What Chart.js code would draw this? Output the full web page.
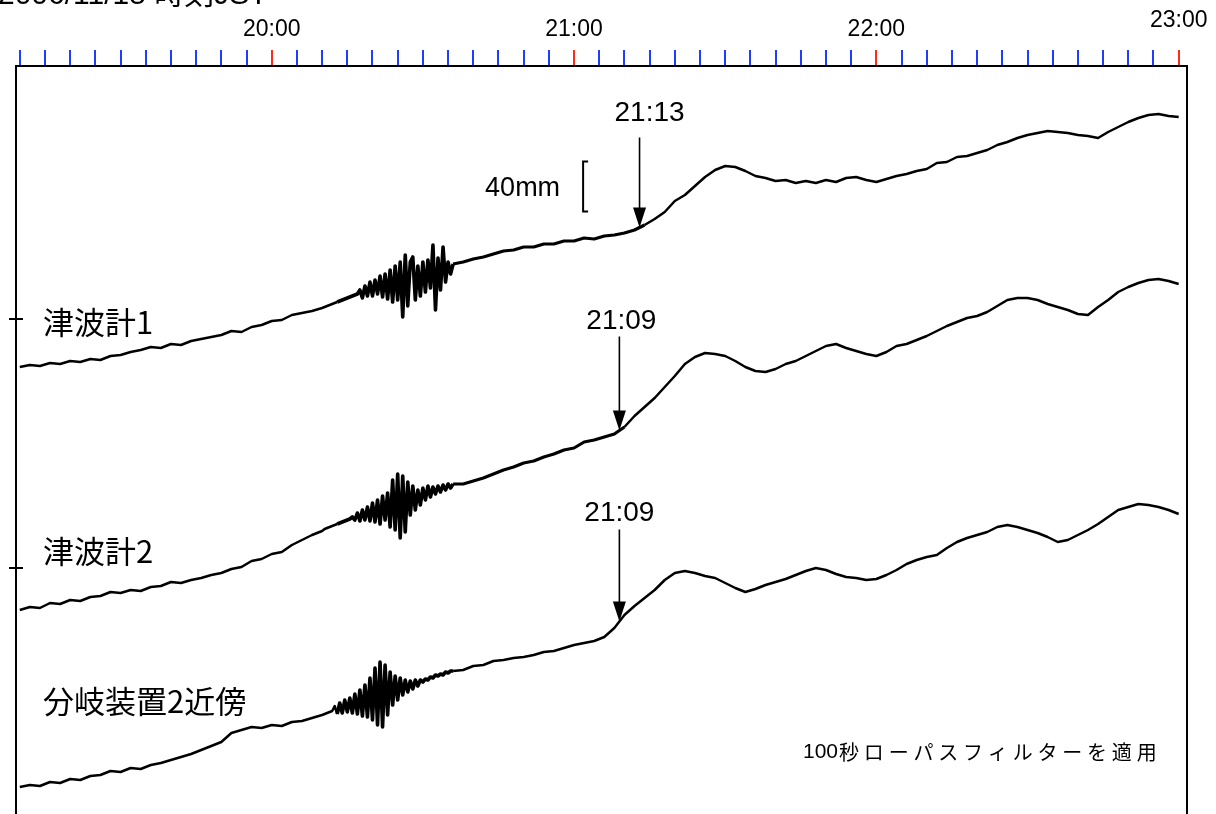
<!DOCTYPE html>
<html lang="ja">
<head>
<meta charset="utf-8">
<title>津波計記録</title>
<script src="https://cdn.jsdelivr.net/npm/chart.js@4.4.1/dist/chart.umd.min.js"></script>
<style>
  html, body { margin: 0; padding: 0; background: #fff; }
  canvas { display: block; }
</style>
</head>
<body>
<canvas id="chart" width="1216" height="814"></canvas>
<script>
// time of each sample, minutes after midnight JST (denser while the seismic waves pass)
const minutes = [
  1150,1152,1154,1156,1158,1160,1162,1164,1166,1168,1170,1172,1174,1176,1178,1180,
  1182,1184,1186,1188,1190,1192,1194,1196,1198,1200,1202,1204,1206,1208,1210,
  1210.5,1211,1211.5,1212,1212.5,1213,1213.5,1214,1214.5,1215,1215.5,1216,1216.5,
  1217,1217.5,1218,1218.5,1219,1219.5,1220,1220.5,1221,1221.5,1222,1222.5,1223,
  1223.5,1224,1224.5,1225,1225.5,1226,1226.5,1227,1227.5,1228,1228.5,1229,1229.5,
  1230,1230.5,1231,1231.5,1232,1232.5,1233,1233.5,1234,1234.5,1235,1235.5,1236,
  1238,1240,1242,1244,1246,1248,1250,1252,1254,1256,1258,1260,1262,1264,1266,1268,
  1270,1272,1274,1276,1278,1280,1282,1284,1286,1288,1290,1292,1294,1296,1298,1300,
  1302,1304,1306,1308,1310,1312,1314,1316,1318,1320,1322,1324,1326,1328,1330,1332,
  1334,1336,1338,1340,1342,1344,1346,1348,1350,1352,1354,1356,1358,1360,1362,1364,
  1366,1368,1370,1372,1374,1376,1378,1380
];

// water level, 1 unit = 0.8 mm, traces stacked with their own offsets
const tsunami1 = [
  447,449,448,451,450,453,452,455,454,458,459,462,464,467,466,470,469,473,475,477,
  479,483,482,487,489,493,494,499,501,503,506,
  507,508,509,510,511,512,513,514,515,516,517,518,519,520,524,516,528,518,532,518,
  534,520,538,517,540,515,544,512,548,514,552,497,559,508,552,557,514,548,518,552,
  522,554,526,569,504,556,524,567,532,552,540,550,
  552,555,557,560,563,564,567,567,570,570,573,573,576,575,578,579,581,584,589,595,
  602,613,619,628,637,644,648,647,643,638,636,633,634,631,633,631,634,632,636,637,
  634,632,635,638,640,643,645,651,652,657,658,661,664,669,672,676,679,681,683,682,
  681,679,678,676,682,687,692,696,699,700,698,697
];
const tsunami2 = [
  204,207,206,211,210,214,213,217,218,222,221,224,223,227,228,232,231,234,236,239,
  241,245,247,253,255,260,262,269,274,279,283,
  285,286,287,288,289,290,291,292,293,294,295,297,294,301,293,304,294,307,293,311,
  292,314,290,318,294,321,287,334,284,340,276,338,282,332,299,328,304,324,309,326,
  314,328,317,327,320,328,322,329,324,330,326,330,
  330,333,336,340,344,347,351,353,357,360,364,366,372,374,377,380,387,398,407,416,
  427,438,450,457,461,460,458,453,447,443,442,445,450,453,458,463,468,470,466,463,
  460,458,462,468,470,474,478,483,488,492,496,498,502,508,514,516,516,514,510,507,
  504,500,499,507,514,522,527,531,534,535,533,530
];
const branch2 = [
  27,29,28,32,31,35,34,38,39,43,42,46,45,49,51,54,57,60,64,68,
  72,81,84,87,86,89,88,92,93,96,99,
  100,101,102,103,108,100,111,101,114,102,116,101,120,100,124,98,129,97,136,94,
  146,89,152,87,149,99,142,109,138,114,136,119,134,122,133,125,134,128,134,132,
  135,134,137,136,139,138,140,139,142,141,143,143,
  144,148,149,153,154,156,157,159,162,163,166,169,171,173,177,186,199,208,216,224,
  234,241,243,241,238,236,231,226,222,225,229,232,235,239,243,246,244,240,237,236,
  234,235,239,244,250,254,257,259,266,272,276,279,282,287,289,287,284,281,277,272,
  274,279,284,290,297,304,307,310,309,307,304,300
];

const seriesNames = ['津波計1', '津波計2', '分岐装置2近傍'];
const hourLabels = ['20:00', '21:00', '22:00', '23:00'];
const arrivalTimes = ['21:13', '21:09', '21:09'];
const baseMarks = [495, 246];
const unitMm = 0.8;
const scaleBarMm = 40;
const headerText = '2006/11/15 時刻JST';
const noteNumber = '100';
const noteText = '秒ローパスフィルターを適用';

const toMin = s => { const p = s.split(':'); return +p[0] * 60 + +p[1]; };
const hourMinutes = hourLabels.map(toMin);

// 5 minute ticks along the top axis
const tickMinutes = [];
for (let m = 1150; m <= 1380; m += 5) tickMinutes.push(m);

const latin = '"Liberation Sans", Arial, "Noto Sans CJK JP", sans-serif';
const cjk = '"Noto Sans CJK JP", "Liberation Sans", sans-serif';

// label placement, pixels
const nameAnchors = [
  { t: 1154.6, level: 492 },
  { t: 1154.6, level: 263 },
  { t: 1154.6, level: 113 }
];
const arrowStyle = [
  { len: 90, gap: 24, dx: 10 },
  { len: 94, gap: 15, dx: 2 },
  { len: 92, gap: 16, dx: 0 }
];
const scaleBarAt = { t: 1261.8, level: 602.5 };
const shakeWindow = [1213, 1236];
// the records before arrival are noisy, drawn a bit heavier
const noisyUntil = [toMin(arrivalTimes[0]), toMin(arrivalTimes[1]), 0];

function levelAt(values, t) {
  for (let i = 1; i < minutes.length; i++) {
    if (minutes[i] >= t) {
      const f = (t - minutes[i - 1]) / (minutes[i] - minutes[i - 1]);
      return values[i - 1] + f * (values[i] - values[i - 1]);
    }
  }
  return values[values.length - 1];
}

const traces = [tsunami1, tsunami2, branch2];

const annotate = {
  id: 'annotate',
  afterDraw(chart) {
    const { ctx, chartArea } = chart;
    const x = chart.scales.x, y = chart.scales.y;
    ctx.save();
    ctx.fillStyle = '#000';
    ctx.strokeStyle = '#000';

    // header, cut by the top edge like the original
    ctx.font = '30px ' + latin;
    ctx.textAlign = 'left';
    ctx.textBaseline = 'alphabetic';
    ctx.fillText(headerText, -2, 4);

    // trace names
    ctx.font = '31px ' + cjk;
    ctx.textBaseline = 'middle';
    seriesNames.forEach((n, i) => {
      ctx.fillText(n, x.getPixelForValue(nameAnchors[i].t), y.getPixelForValue(nameAnchors[i].level));
    });

    // arrival arrows
    ctx.font = '28px ' + latin;
    ctx.textAlign = 'center';
    ctx.textBaseline = 'middle';
    arrivalTimes.forEach((lab, i) => {
      const st = arrowStyle[i];
      const t = toMin(lab);
      const px = x.getPixelForValue(t);
      const tip = y.getPixelForValue(levelAt(traces[i], t));
      const top = tip - st.len;
      ctx.lineWidth = 1.6;
      ctx.beginPath();
      ctx.moveTo(px, top);
      ctx.lineTo(px, tip - 18);
      ctx.stroke();
      ctx.beginPath();
      ctx.moveTo(px - 6.5, tip - 20);
      ctx.lineTo(px + 6.5, tip - 20);
      ctx.lineTo(px, tip);
      ctx.closePath();
      ctx.fill();
      ctx.fillText(lab, px + st.dx, top - st.gap);
    });

    // 40 mm scale bar
    const bx = x.getPixelForValue(scaleBarAt.t);
    const by0 = y.getPixelForValue(scaleBarAt.level);
    const by1 = y.getPixelForValue(scaleBarAt.level + scaleBarMm / unitMm);
    ctx.lineWidth = 2;
    ctx.beginPath();
    ctx.moveTo(bx + 5, by1);
    ctx.lineTo(bx, by1);
    ctx.lineTo(bx, by0);
    ctx.lineTo(bx + 5, by0);
    ctx.stroke();
    ctx.font = '27px ' + latin;
    ctx.textAlign = 'right';
    ctx.fillText(scaleBarMm + 'mm', bx - 23, (by0 + by1) / 2 + 2);

    // filter note
    const nx = chartArea.right - 384, ny = chartArea.bottom - 62;
    ctx.font = '21px ' + latin;
    ctx.textAlign = 'left';
    ctx.fillText(noteNumber, nx, ny);
    const w = ctx.measureText(noteNumber).width;
    ctx.font = '20px ' + cjk;
    ctx.letterSpacing = '4.8px';
    ctx.fillText(noteText, nx + w + 1, ny);
    ctx.restore();
  }
};

const makeSet = (vals, k) => ({
  data: minutes.map((t, i) => ({ x: t, y: vals[i] })),
  borderColor: '#000',
  borderWidth: 2.5,
  borderJoinStyle: 'round',
  pointRadius: 0,
  tension: 0,
  fill: false,
  segment: {
    borderWidth: c => {
      const t = c.p0.parsed.x;
      if (t >= shakeWindow[0] && t < shakeWindow[1]) return 3.6;
      if (t >= shakeWindow[1] && t < noisyUntil[k]) return 3.2;
      return 2.5;
    }
  }
});

new Chart(document.getElementById('chart'), {
  type: 'line',
  data: { datasets: traces.map(makeSet) },
  options: {
    responsive: false,
    animation: false,
    devicePixelRatio: 1,
    layout: { padding: { left: 16, right: 29, top: 0, bottom: 0 } },
    plugins: { legend: { display: false }, tooltip: { enabled: false } },
    scales: {
      x: {
        type: 'linear',
        position: 'top',
        min: 1149.25,
        max: 1381.65,
        afterBuildTicks: sc => { sc.ticks = tickMinutes.map(v => ({ value: v })); },
        afterFit: sc => { sc.height = 66; },
        ticks: {
          autoSkip: false,
          maxRotation: 0,
          padding: 7,
          color: '#000',
          font: c => ({
            family: latin, size: 23,
            lineHeight: c.tick && c.tick.value === hourMinutes[hourMinutes.length - 1] ? '15px' : 1.2
          }),
          callback: v => {
            const k = hourMinutes.indexOf(v);
            if (k < 0) return '';
            return k === hourMinutes.length - 1 ? [hourLabels[k], ''] : hourLabels[k];
          }
        },
        grid: {
          drawOnChartArea: false,
          tickLength: 16,
          lineWidth: 2,
          color: c => (c.tick && c.tick.value % 60 === 0) ? '#ff2a1a' : '#1f3dff'
        },
        border: { display: true, color: '#000', width: 2 }
      },
      y: {
        position: 'left',
        min: 0,
        max: 748,
        afterBuildTicks: sc => { sc.ticks = baseMarks.map(v => ({ value: v })); },
        afterFit: sc => { sc.width = 0; },
        ticks: { display: false },
        grid: { drawOnChartArea: false, tickLength: 7, lineWidth: 2, color: '#000' },
        border: { display: true, color: '#000', width: 2 }
      },
      yIn: {
        position: 'left',
        min: 0,
        max: 748,
        afterBuildTicks: sc => { sc.ticks = baseMarks.map(v => ({ value: v })); },
        afterFit: sc => { sc.width = 0; },
        ticks: { display: false },
        grid: { drawOnChartArea: false, tickLength: -7, lineWidth: 2, color: '#000' },
        border: { display: false }
      },
      yR: {
        position: 'right',
        min: 0,
        max: 748,
        afterFit: sc => { sc.width = 0; },
        ticks: { display: false },
        grid: { display: false },
        border: { display: true, color: '#000', width: 2 }
      }
    }
  },
  plugins: [annotate]
});
</script>
</body>
</html>
